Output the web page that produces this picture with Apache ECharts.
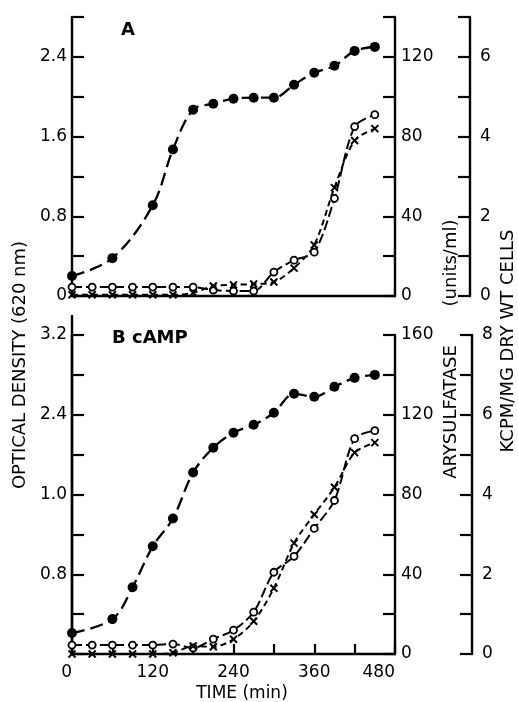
<!DOCTYPE html>
<html>
<head>
<meta charset="utf-8">
<script src="https://cdn.jsdelivr.net/npm/echarts@6/dist/echarts.min.js"></script>
<style>
html,body{margin:0;padding:0;background:#fff;}
#c{width:518px;height:702px;}
</style>
</head>
<body>
<div id="c"></div>
<script>
// ---------- DATA ----------
// Panel A
const timeOdA = [0, 60, 120, 150, 180, 210, 240, 270, 300, 330, 360, 390, 420, 450];
const odA = [0.20, 0.38, 0.91, 1.47, 1.87, 1.93, 1.98, 1.99, 1.99, 2.12, 2.24, 2.31, 2.46, 2.50];
const timeMarkA = [0, 30, 60, 90, 120, 150, 180, 210, 240, 270, 300, 330, 360, 390, 420, 450];
const arylA = [4.5, 4.5, 4.5, 4.5, 4.5, 4.5, 4.5, 3, 2.5, 2.5, 12, 18, 22, 49, 85, 91];
const kcpmA = [0.03, 0.03, 0.03, 0.03, 0.03, 0.03, 0.08, 0.25, 0.28, 0.3, 0.35, 0.7, 1.28, 2.72, 3.9, 4.2];
// Panel B (cAMP)
const timeOdB = [0, 60, 90, 120, 150, 180, 210, 240, 270, 300, 330, 360, 390, 420, 450];
const odB = [0.21, 0.35, 0.67, 1.08, 1.36, 1.82, 2.07, 2.22, 2.30, 2.42, 2.61, 2.58, 2.68, 2.77, 2.80];
const timeMarkB = [0, 30, 60, 90, 120, 150, 180, 210, 240, 270, 300, 330, 360, 390, 420, 450];
const arylB = [4.5, 4.5, 4.5, 4.5, 4.5, 5, 3, 7.5, 12, 21, 41, 49, 63, 77, 108, 112];
const kcpmB = [0, 0, 0, 0, 0, 0.03, 0.2, 0.18, 0.37, 0.82, 1.65, 2.78, 3.5, 4.18, 5.05, 5.3];

// Tick labels
const xLabelVals = [0, 120, 240, 360, 480];
const odLabelValsA = [0, 0.8, 1.6, 2.4];
const odLabelTextA = ['0', '0.8', '1.6', '2.4'];
const odLabelValsB = [0.8, 1.6, 2.4, 3.2];
const odLabelTextB = ['0.8', '1.0', '2.4', '3.2'];
const arylLabelValsA = [0, 40, 80, 120];
const arylLabelValsB = [0, 40, 80, 120, 160];
const kcpmLabelValsA = [0, 2, 4, 6];
const kcpmLabelValsB = [0, 2, 4, 6, 8];

// ---------- CHART ----------
const FONT = 'DejaVu Sans';
const BLACK = '#000';
const pairs = (xs, ys) => xs.map((x, i) => [x, ys[i]]);
const labelFmt = (vals, texts) => v => {
  const i = vals.findIndex(x => Math.abs(x - v) < 1e-6);
  return i >= 0 ? (texts ? texts[i] : String(vals[i])) : '';
};
const crossPath = 'path://M0,0L10,10M10,0L0,10';
const tickFont = {color: BLACK, fontFamily: FONT, fontSize: 17};

function yAx(gridIndex, extra) {
  return Object.assign({
    type: 'value', gridIndex,
    splitLine: {show: false},
    axisLine: {show: true, onZero: false, lineStyle: {color: BLACK, width: 2.4}},
    axisTick: {show: true, inside: true, length: 12, lineStyle: {color: BLACK, width: 2.2}},
    axisLabel: Object.assign({margin: 7}, tickFont)
  }, extra);
}
function xAx(gridIndex, extra) {
  return Object.assign({
    type: 'value', gridIndex, min: 0, max: 480, interval: 60,
    splitLine: {show: false},
    axisLine: {show: true, onZero: false, lineStyle: {color: BLACK, width: 2.4}},
    axisTick: {show: false},
    axisLabel: {show: false}
  }, extra);
}

function odSeries(xi, yi, xs, ys) {
  return {
    type: 'line', xAxisIndex: xi, yAxisIndex: yi, data: pairs(xs, ys),
    smooth: 0.35, showAllSymbol: true, symbol: 'circle', symbolSize: 10,
    itemStyle: {color: BLACK},
    lineStyle: {color: BLACK, width: 2.3, type: [13, 6]}, z: 3
  };
}
function arylSeries(xi, yi, xs, ys) {
  return {
    type: 'line', xAxisIndex: xi, yAxisIndex: yi, data: pairs(xs, ys),
    smooth: 0.3, showAllSymbol: true, symbol: 'circle', symbolSize: 7,
    itemStyle: {color: '#fff', borderColor: BLACK, borderWidth: 1.8},
    lineStyle: {color: BLACK, width: 2, type: [10, 4]}, z: 4
  };
}
function kcpmSeries(xi, yi, xs, ys) {
  return {
    type: 'line', xAxisIndex: xi, yAxisIndex: yi, data: pairs(xs, ys),
    smooth: 0.3, showAllSymbol: true, symbol: crossPath, symbolSize: 7,
    itemStyle: {color: BLACK, borderColor: BLACK, borderWidth: 2},
    lineStyle: {color: BLACK, width: 2, type: [6, 4]}, z: 4
  };
}

const chart = echarts.init(document.getElementById('c'), null, {renderer: 'canvas'});
chart.setOption({
  animation: false,
  backgroundColor: '#fff',
  grid: [
    {left: 72, top: 17, width: 323, height: 279},
    {left: 72, top: 335, width: 323, height: 319},
    {left: 72, top: 316, width: 323, height: 338}
  ],
  xAxis: [
    xAx(0),
    xAx(1, {
      axisTick: {show: true, inside: true, length: 10, lineStyle: {color: BLACK, width: 2.2}},
      axisLabel: Object.assign({show: true, margin: 10,
        formatter: labelFmt(xLabelVals), alignMinLabel: 'right', alignMaxLabel: 'right'}, tickFont)
    }),
    xAx(2, {show: false})
  ],
  yAxis: [
    yAx(0, {min: 0, max: 2.8, interval: 0.4, position: 'left',
      axisLabel: Object.assign({margin: 5, formatter: labelFmt(odLabelValsA, odLabelTextA)}, tickFont)}),
    yAx(0, {min: 0, max: 140, interval: 20, position: 'right',
      axisLabel: Object.assign({margin: 6, formatter: labelFmt(arylLabelValsA)}, tickFont)}),
    yAx(0, {min: 0, max: 7, interval: 1, position: 'right', offset: 75,
      axisLabel: Object.assign({margin: 10, formatter: labelFmt(kcpmLabelValsA)}, tickFont)}),
    yAx(1, {min: 0, max: 3.2, interval: 0.4, position: 'left',
      axisLabel: Object.assign({margin: 5, formatter: labelFmt(odLabelValsB, odLabelTextB)}, tickFont)}),
    yAx(1, {min: 0, max: 160, interval: 20, position: 'right',
      axisLabel: Object.assign({margin: 6, formatter: labelFmt(arylLabelValsB)}, tickFont)}),
    yAx(1, {min: 0, max: 8, interval: 1, position: 'right', offset: 77,
      axisLabel: Object.assign({margin: 10, formatter: labelFmt(kcpmLabelValsB)}, tickFont)}),
    yAx(2, {min: 0, max: 1, position: 'left', axisTick: {show: false}, axisLabel: {show: false}})
  ],
  series: [
    odSeries(0, 0, timeOdA, odA),
    arylSeries(0, 1, timeMarkA, arylA),
    kcpmSeries(0, 2, timeMarkA, kcpmA),
    odSeries(1, 3, timeOdB, odB),
    arylSeries(1, 4, timeMarkB, arylB),
    kcpmSeries(1, 5, timeMarkB, kcpmB)
  ],
  graphic: [
    {type: 'text', x: 128, y: 30, style: {text: 'A', font: 'bold 18px "DejaVu Sans"', fill: BLACK, align: 'center', verticalAlign: 'middle'}},
    {type: 'text', x: 112, y: 338, style: {text: 'B cAMP', font: 'bold 18px "DejaVu Sans"', fill: BLACK, align: 'left', verticalAlign: 'middle'}},
    {type: 'text', x: 242, y: 694, style: {text: 'TIME (min)', font: '17px "DejaVu Sans"', fill: BLACK, align: 'center', verticalAlign: 'middle'}},
    {type: 'text', x: 20, y: 365, rotation: Math.PI / 2, style: {text: 'OPTICAL DENSITY (620 nm)', font: '18px "DejaVu Sans"', fill: BLACK, align: 'center', verticalAlign: 'middle'}},
    {type: 'text', x: 451, y: 263, rotation: Math.PI / 2, style: {text: '(units/ml)', font: '18px "DejaVu Sans"', fill: BLACK, align: 'center', verticalAlign: 'middle'}},
    {type: 'text', x: 451, y: 412, rotation: Math.PI / 2, style: {text: 'ARYSULFATASE', font: '18px "DejaVu Sans"', fill: BLACK, align: 'center', verticalAlign: 'middle'}},
    {type: 'text', x: 508, y: 341, rotation: Math.PI / 2, style: {text: 'KCPM/MG DRY WT CELLS', font: '18px "DejaVu Sans"', fill: BLACK, align: 'center', verticalAlign: 'middle'}}
  ]
});
</script>
</body>
</html>
